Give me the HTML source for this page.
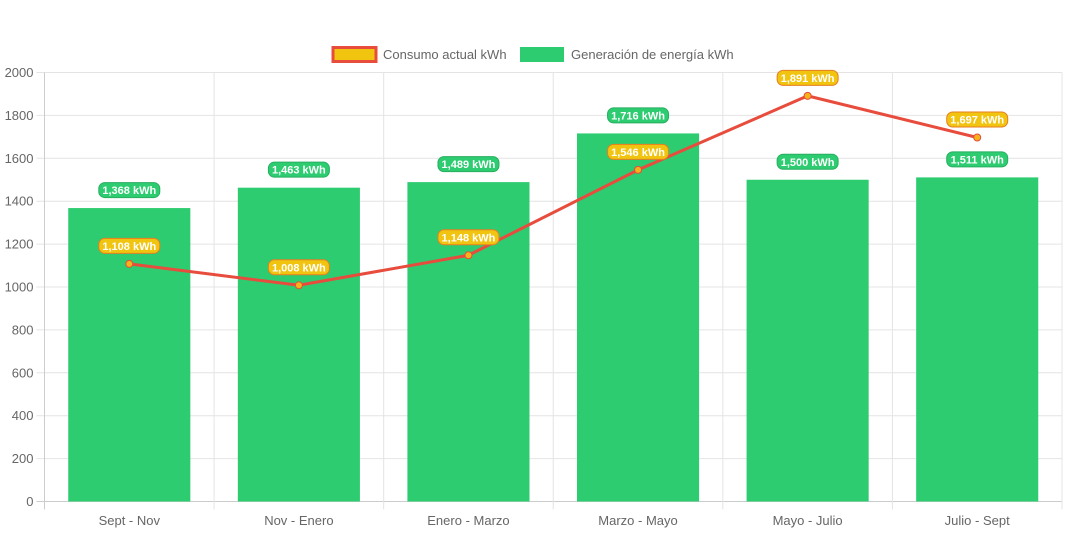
<!DOCTYPE html>
<html><head><meta charset="utf-8"><style>
body{margin:0;background:#fff;font-family:"Liberation Sans",Arial,sans-serif;}
svg text{font-family:"Liberation Sans",Arial,sans-serif;}
</style></head><body>
<svg id="chart" width="1068" height="533" viewBox="0 0 1068 533" xmlns="http://www.w3.org/2000/svg">
<g>
<rect x="333" y="47.5" width="43" height="14" fill="#f1c40f" stroke="#e74c3c" stroke-width="3"/>
<text x="383" y="59" font-size="13" fill="#666">Consumo actual kWh</text>
<rect x="520" y="47" width="44" height="15" fill="#2ecc71"/>
<text x="571" y="59" font-size="13" fill="#666">Generación de energía kWh</text>
</g>
<g id="grid"></g><g id="bars"></g><g id="line"></g><g id="labels"></g>
</svg>
<script>
const categories=["Sept - Nov","Nov - Enero","Enero - Marzo","Marzo - Mayo","Mayo - Julio","Julio - Sept"];
const generacion=[1368,1463,1489,1716,1500,1511];
const consumo=[1108,1008,1148,1546,1891,1697];
const yTicks=[0,200,400,600,800,1000,1200,1400,1600,1800,2000];
const NS="http://www.w3.org/2000/svg";
const L=44.5,R=1062,T=72.5,B=501.5,yMax=2000;
const cw=(R-L)/categories.length;
const y=v=>B-(v/yMax)*(B-T);
const xc=i=>L+cw*(i+0.5);
function mk(tag,attrs,parent){const e=document.createElementNS(NS,tag);for(const k in attrs)e.setAttribute(k,attrs[k]);parent.appendChild(e);return e;}
const grid=document.getElementById('grid'),bars=document.getElementById('bars'),line=document.getElementById('line'),labels=document.getElementById('labels');
yTicks.forEach(t=>{
 const g=mk('line',{x1:L-8,x2:R,y1:y(t),y2:y(t),stroke:t===0?'#ccc':'#e4e4e4','stroke-width':1},grid);
 
 
 const tx=mk('text',{x:L-11,y:y(t)+4.5,'text-anchor':'end','font-size':13,fill:'#666'},grid);
 tx.textContent=t;
 
 
});
for(let i=0;i<=categories.length;i++){
 const x=L+cw*i;
 const g=mk('line',{x1:x,x2:x,y1:T,y2:B+8,stroke:i===0?'#ccc':'#e4e4e4','stroke-width':1},grid);
 
 
}
categories.forEach((c,i)=>{
 const tx=mk('text',{x:xc(i),y:525,'text-anchor':'middle','font-size':13,fill:'#666'},grid);
 tx.textContent=c;
 
 
});
const bw=cw*0.72;
generacion.forEach((v,i)=>{
 const r=mk('rect',{x:xc(i)-bw/2,y:y(v),width:bw,height:B-y(v),fill:'#2ecc71'},bars);
 
 
});
const pts=consumo.map((v,i)=>xc(i)+','+y(v)).join(' ');
const pl=mk('polyline',{points:pts,fill:'none',stroke:'#e74c3c','stroke-width':3},line);


consumo.forEach((v,i)=>{
 const c=mk('circle',{cx:xc(i),cy:y(v),r:3.5,fill:'#f5b21a',stroke:'#e74c3c','stroke-width':1},line);
 
 
});
function pill(x,cy,txt,fill,stroke,name){
 const w=61,h=15;
 const r=mk('rect',{x:x-w/2,y:cy-h/2,width:w,height:h,rx:6,fill:fill,stroke:stroke,'stroke-width':1},labels);
 
 
 const t=mk('text',{x:x,y:cy+4,'text-anchor':'middle','font-size':11,'font-weight':'bold',fill:'#fff'},labels);
 t.textContent=txt;
 
 
}
const fmt=v=>v.toLocaleString('en-US')+' kWh';
generacion.forEach((v,i)=>pill(xc(i),y(v)-18,fmt(v),'#2ecc71','#27ae60','label-generacion'));
consumo.forEach((v,i)=>pill(xc(i),y(v)-18,fmt(v),'#f1c40f','#e67e22','label-consumo'));
</script>
</body></html>
